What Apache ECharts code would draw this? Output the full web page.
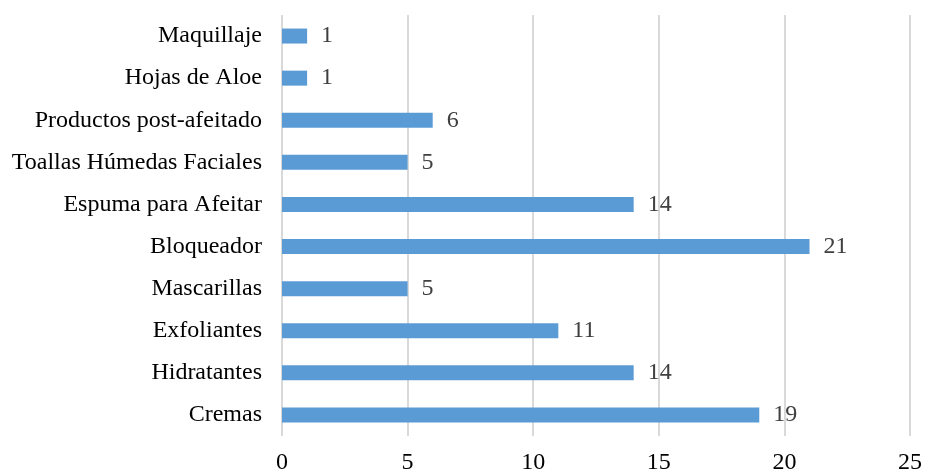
<!DOCTYPE html>
<html><head><meta charset="utf-8">
<script src="https://cdn.jsdelivr.net/npm/echarts@6/dist/echarts.min.js"></script>
<style>html,body{margin:0;padding:0;background:#fff}#c{width:925px;height:475px}</style>
</head><body><div id="c"></div>
<script>
const categories = ["Cremas","Hidratantes","Exfoliantes","Mascarillas","Bloqueador","Espuma para Afeitar","Toallas Húmedas Faciales","Productos post-afeitado","Hojas de Aloe","Maquillaje"];
const values = [19,14,11,5,21,14,5,6,1,1];
const xTicks = {min:0, max:25, interval:5};
const chart = echarts.init(document.getElementById('c'));
const font = '"Liberation Serif","Times New Roman",serif';
chart.setOption({
  animation:false,
  grid:{left:282,right:15,top:15,bottom:39,containLabel:false},
  xAxis:{type:'value',min:xTicks.min,max:xTicks.max,interval:xTicks.interval,
    axisLine:{show:false},axisTick:{show:false},
    splitLine:{lineStyle:{color:'#d9d9d9',width:2}},
    axisLabel:{fontFamily:font,fontSize:24,color:'#000',margin:15}},
  yAxis:{type:'category',data:categories,
    axisLine:{show:false},axisTick:{show:false},
    axisLabel:{fontFamily:font,fontSize:24,color:'#000',margin:20}},
  series:[{type:'bar',data:values,barWidth:15,
    itemStyle:{color:'#5b9bd5'},
    label:{show:true,position:'right',distance:14,fontFamily:font,fontSize:24,color:'#404040'}}]
});
</script></body></html>
